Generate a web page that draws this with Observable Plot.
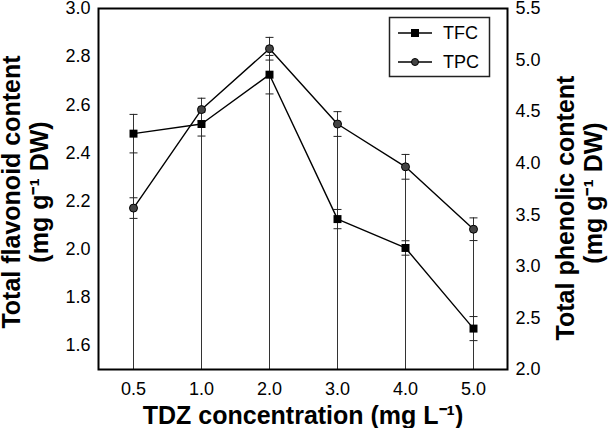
<!DOCTYPE html>
<html><head><meta charset="utf-8">
<script src="https://cdn.jsdelivr.net/npm/d3@7"></script>
<script src="https://cdn.jsdelivr.net/npm/@observablehq/plot@0.6"></script>
<style>
body{margin:0;background:#fff}
#wrap{position:relative;width:608px;height:428px}
#legend{position:absolute;left:0;top:0}
</style></head><body><div id="wrap"></div>
<script>
const concentrations = ["0.5","1.0","2.0","3.0","4.0","5.0"];
const tfc    = [2.48, 2.52, 2.725, 2.125, 2.005, 1.67];
const tfcErr = [0.08, 0.05, 0.08, 0.04, 0.03, 0.05];
const tpc    = [3.565, 4.52, 5.11, 4.38, 3.965, 3.36];
const tpcErr = [0.10, 0.11, 0.11, 0.12, 0.12, 0.11];
const leftTicks  = [1.6, 1.8, 2.0, 2.2, 2.4, 2.6, 2.8, 3.0];
const rightTicks = [2.0, 2.5, 3.0, 3.5, 4.0, 4.5, 5.0, 5.5];
const seriesNames = ["TFC", "TPC"];

const L0 = 1.5, L1 = 3.0, R0 = 2.0, R1 = 5.5;
const toLeft = v => L0 + (v - R0) * (L1 - L0) / (R1 - R0);
const fromLeft = v => R0 + (v - L0) * (R1 - R0) / (L1 - L0);

const rows = concentrations.flatMap((c, i) => [
  {c, series: "TFC", v: tfc[i], lo: tfc[i] - tfcErr[i], hi: tfc[i] + tfcErr[i]},
  {c, series: "TPC", v: toLeft(tpc[i]), lo: toLeft(tpc[i] - tpcErr[i]), hi: toLeft(tpc[i] + tpcErr[i])}
]);
const tfcRows = rows.filter(d => d.series === "TFC");
const tpcRows = rows.filter(d => d.series === "TPC");

const capSymbol = {draw(ctx) { ctx.moveTo(-4, 0); ctx.lineTo(4, 0); }};

const font = "'Liberation Sans', Arial, sans-serif";
const titleStyle = {fontSize: 25, fontWeight: "bold", rotate: -90, fill: "#000", textAnchor: "middle", lineAnchor: "middle"};

const chart = Plot.plot({
  width: 608, height: 428,
  marginLeft: 98, marginRight: 101, marginTop: 8, marginBottom: 59,
  style: {fontFamily: font, background: "#fff", color: "#000"},
  x: {type: "point", domain: concentrations, padding: 0.5},
  y: {domain: [L0, L1]},
  marks: [
    Plot.ruleX(rows, {x: "c", y1: L0, y2: "hi", stroke: "#333", strokeWidth: 1}),
    Plot.dot(rows, {x: "c", y: "hi", symbol: capSymbol, fill: "none", stroke: "#222", strokeWidth: 1}),
    Plot.dot(rows, {x: "c", y: "lo", symbol: capSymbol, fill: "none", stroke: "#222", strokeWidth: 1}),
    Plot.line(rows, {x: "c", y: "v", z: "series", stroke: "#000", strokeWidth: 1.4}),
    Plot.dot(tfcRows, {x: "c", y: "v", symbol: "square", r: 4.5, fill: "#000", stroke: "none"}),
    Plot.dot(tpcRows, {x: "c", y: "v", symbol: "circle", r: 4, fill: "#444", stroke: "#000", strokeWidth: 1}),
    Plot.frame({stroke: "#000", strokeWidth: 2}),
    Plot.axisY(leftTicks, {anchor: "left", tickSize: 0, tickPadding: 8, fontSize: 18, tickFormat: d => d.toFixed(1), label: null}),
    Plot.axisY(rightTicks.map(toLeft), {anchor: "right", tickSize: 0, tickPadding: 8, fontSize: 18, tickFormat: d => fromLeft(d).toFixed(1), label: null}),
    Plot.axisX({tickSize: 0, tickPadding: 13, fontSize: 18, label: null}),
    Plot.text(["Total flavonoid content"], {...titleStyle, frameAnchor: "left", dx: -87, dy: 3}),
    Plot.text(["(mg g⁻¹ DW)"], {...titleStyle, frameAnchor: "left", dx: -59, dy: 3}),
    Plot.text(["Total phenolic content"], {...titleStyle, frameAnchor: "right", dx: 58, dy: 19}),
    Plot.text(["(mg g⁻¹ DW)"], {...titleStyle, frameAnchor: "right", dx: 86, dy: 4}),
    Plot.text(["TDZ concentration (mg L⁻¹)"], {fontSize: 25, fontWeight: "bold", fill: "#000", frameAnchor: "bottom", textAnchor: "middle", lineAnchor: "middle", dy: 46})
  ]
});
document.getElementById("wrap").appendChild(chart);

// legend overlay
const lg = d3.select("#wrap").append("svg").attr("id", "legend")
  .attr("width", 608).attr("height", 428).style("font-family", font);
lg.append("rect").attr("x", 389.5).attr("y", 17.5).attr("width", 100).attr("height", 59)
  .attr("fill", "#fff").attr("stroke", "#222").attr("stroke-width", 1.5);
seriesNames.forEach((name, i) => {
  const y = 33 + i * 29;
  lg.append("line").attr("x1", 398).attr("x2", 432).attr("y1", y).attr("y2", y)
    .attr("stroke", "#000").attr("stroke-width", 1.4);
  if (name === "TFC") {
    lg.append("rect").attr("x", 411).attr("y", y - 4).attr("width", 8).attr("height", 8).attr("fill", "#000");
  } else {
    lg.append("circle").attr("cx", 415).attr("cy", y).attr("r", 3.5).attr("fill", "#444").attr("stroke", "#000");
  }
  lg.append("text").attr("x", 443).attr("y", y).attr("dy", "0.35em")
    .attr("font-size", 18).attr("fill", "#000").text(name);
});
</script></body></html>
